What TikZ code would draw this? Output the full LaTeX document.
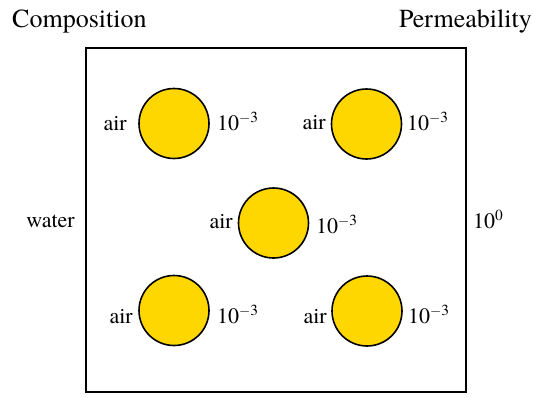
\documentclass[tikz,border=0pt]{standalone}
\usepackage{fontspec}
\setmainfont{TeX Gyre Termes}
\definecolor{gold}{HTML}{FFD700}
\begin{document}
\begin{tikzpicture}[x=1pt,y=-1pt,
  bubble/.style={circle,draw=black,line width=1.6pt,fill=gold,minimum size=70pt,inner sep=0pt},
  lbl/.style={font=\rmfamily\fontsize{22}{24}\selectfont,inner sep=0pt},
  hdr/.style={font=\rmfamily\fontsize{26}{28}\selectfont,inner sep=0pt}]
\useasboundingbox (0,0) rectangle (533,397);
\node[draw=black,line width=1.8pt,minimum width=380pt,minimum height=344pt,inner sep=0pt] (box) at (276,220) {};
\node[hdr,anchor=base west] (comp) at (12,27) {Composition};
\node[hdr,anchor=base east] (perm) at (532,27) {Permeability};
\node[lbl,anchor=base east] (water) at (75,227) {water};
\node[lbl,anchor=base west] (p0) at (473,228) {10\textsuperscript{0}};
\foreach \n/\cx/\cy/\ax/\ay/\px/\py in {
  a/174/123.5/127/130/217/130,
  b/366.5/124/326/129/407/130,
  c/273.5/223/233/228/316/233,
  d/174/310.5/133/323/217/323,
  e/367/311/327/323/408/323}{
  \node[bubble] (\n) at (\cx,\cy) {};
  \node[lbl,anchor=base east] (\n air) at (\ax,\ay) {air};
  \node[lbl,anchor=base west] (\n p) at (\px,\py) {10\textsuperscript{$-$3}};
}
\end{tikzpicture}
\end{document}
